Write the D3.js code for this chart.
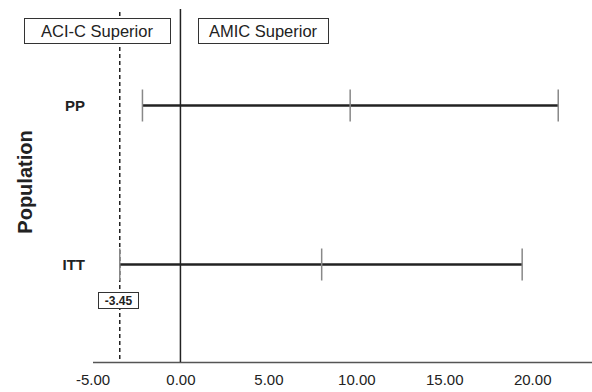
<!DOCTYPE html>
<html>
<head>
<meta charset="utf-8">
<script src="https://cdn.jsdelivr.net/npm/d3@7"></script>
<style>
  body { margin: 0; background: #fff; }
  text { font-family: "Liberation Sans", Arial, sans-serif; }
</style>
</head>
<body>
<div id="chart"></div>
<script>
const populations = ["PP", "ITT"];
const lower = [-2.16, -3.45];
const estimate = [9.65, 8.03];
const upper = [21.48, 19.43];
const margin = -3.45;
const xTicks = [-5, 0, 5, 10, 15, 20];
const headers = ["ACI-C Superior", "AMIC Superior"];

const width = 592, height = 392;
const fmt = d => d3.format(".2f")(d).replace("\u2212", "-");

const svg = d3.select("#chart").append("svg")
  .attr("width", width)
  .attr("height", height);

const x = d3.scaleLinear()
  .domain([-5, 23.4])
  .range([92.5, 592]);

const y = d3.scalePoint()
  .domain(populations)
  .range([105.5, 264.5]);

const axisY = 362;

// x axis
const gX = svg.append("g")
  .attr("transform", `translate(0,${axisY})`)
  .call(d3.axisBottom(x).tickValues(xTicks).tickSize(0).tickPadding(12).tickFormat(fmt));
gX.select(".domain").attr("stroke", "#555").attr("stroke-width", 1.5);
gX.selectAll(".tick text")
  .attr("font-size", 15)
  .attr("fill", "#222")
  .style("font-family", "Liberation Sans, Arial, sans-serif");

// zero line
svg.append("line")
  .attr("x1", x(0)).attr("x2", x(0))
  .attr("y1", 9).attr("y2", axisY)
  .attr("stroke", "#222").attr("stroke-width", 1.5);

// margin line
svg.append("line")
  .attr("x1", x(margin)).attr("x2", x(margin))
  .attr("y1", 12).attr("y2", axisY)
  .attr("stroke", "#222").attr("stroke-width", 1.5)
  .attr("stroke-dasharray", "4,3");

// header boxes
const hdr = [
  {label: headers[0], x0: 24, x1: 170},
  {label: headers[1], x0: 198, x1: 328}
];
hdr.forEach(h => {
  svg.append("rect")
    .attr("x", h.x0 + 0.5).attr("y", 18.5)
    .attr("width", h.x1 - h.x0).attr("height", 25)
    .attr("fill", "#fff").attr("stroke", "#333").attr("stroke-width", 1);
  svg.append("text")
    .attr("x", (h.x0 + h.x1) / 2).attr("y", 37)
    .attr("text-anchor", "middle")
    .attr("font-size", 16.5)
    .attr("fill", "#222")
    .text(h.label);
});

// interval lines
const rows = populations.map((p, i) => ({p, lo: lower[i], est: estimate[i], hi: upper[i]}));

svg.append("g").selectAll("line")
  .data(rows)
  .join("line")
    .attr("x1", d => x(d.lo)).attr("x2", d => x(d.hi))
    .attr("y1", d => y(d.p)).attr("y2", d => y(d.p))
    .attr("stroke", "#222").attr("stroke-width", 2.5);

const tickH = 16;
["lo", "est", "hi"].forEach(k => {
  svg.append("g").selectAll("line")
    .data(rows)
    .join("line")
      .attr("x1", d => x(d[k])).attr("x2", d => x(d[k]))
      .attr("y1", d => y(d.p) - tickH).attr("y2", d => y(d.p) + tickH)
      .attr("stroke", "#888").attr("stroke-width", 1.5);
});

// row labels
svg.append("g").selectAll("text")
  .data(populations)
  .join("text")
    .attr("x", 85)
    .attr("y", d => y(d) + 5.5)
    .attr("text-anchor", "end")
    .attr("font-size", 15)
    .attr("font-weight", "bold")
    .attr("fill", "#222")
    .text(d => d);

// axis title
svg.append("text")
  .attr("transform", "translate(32,182) rotate(-90)")
  .attr("text-anchor", "middle")
  .attr("font-size", 20)
  .attr("font-weight", "bold")
  .attr("fill", "#222")
  .text("Population");

// margin label
svg.append("rect")
  .attr("x", 98.5).attr("y", 292.5)
  .attr("width", 40).attr("height", 16)
  .attr("fill", "#fff").attr("stroke", "#333").attr("stroke-width", 1);
svg.append("text")
  .attr("x", 118.5).attr("y", 305)
  .attr("text-anchor", "middle")
  .attr("font-size", 12)
  .attr("font-weight", "bold")
  .attr("fill", "#222")
  .text(fmt(margin));
</script>
</body>
</html>
